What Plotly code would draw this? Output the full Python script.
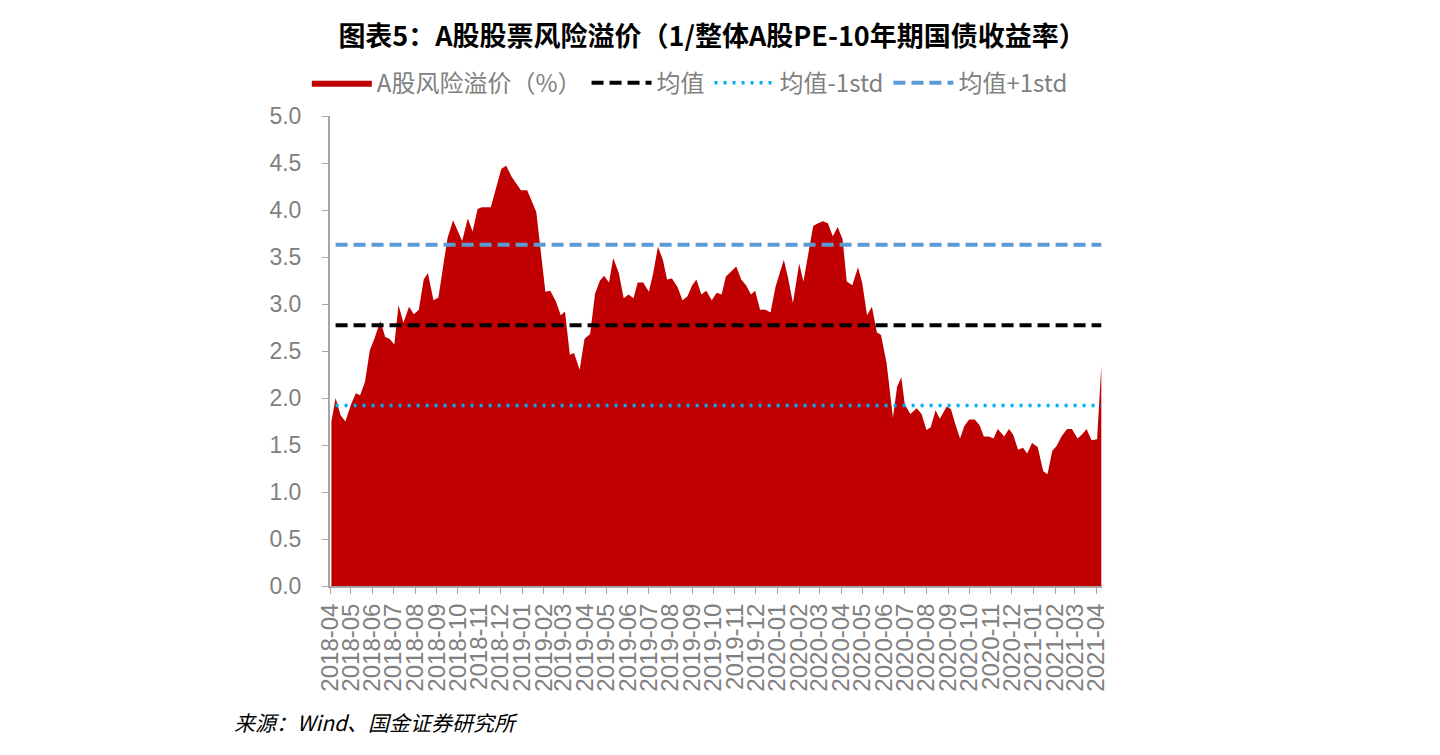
import plotly.graph_objects as go

dates = [
    "2018-04-03", "2018-04-09", "2018-04-16", "2018-04-23", "2018-05-01", "2018-05-08", "2018-05-14",
    "2018-05-21", "2018-05-28", "2018-06-04", "2018-06-12", "2018-06-19", "2018-06-25", "2018-07-02",
    "2018-07-08", "2018-07-15", "2018-07-23", "2018-07-30", "2018-08-06", "2018-08-13", "2018-08-19",
    "2018-08-27", "2018-09-03", "2018-09-16", "2018-09-24", "2018-10-07", "2018-10-15", "2018-10-22",
    "2018-10-29", "2018-11-04", "2018-11-17", "2018-11-25", "2018-12-02", "2018-12-09", "2018-12-17",
    "2018-12-30", "2019-01-08", "2019-01-21", "2019-01-27", "2019-02-03", "2019-02-10", "2019-02-18",
    "2019-02-25", "2019-03-03", "2019-03-10", "2019-03-16", "2019-03-24", "2019-03-31", "2019-04-08",
    "2019-04-15", "2019-04-22", "2019-04-28", "2019-05-05", "2019-05-11", "2019-05-19", "2019-05-26",
    "2019-06-02", "2019-06-09", "2019-06-15", "2019-06-23", "2019-07-01", "2019-07-07", "2019-07-14",
    "2019-07-21", "2019-07-27", "2019-08-03", "2019-08-11", "2019-08-18", "2019-08-25", "2019-09-01",
    "2019-09-07", "2019-09-14", "2019-09-21", "2019-09-29", "2019-10-06", "2019-10-13", "2019-10-19",
    "2019-10-26", "2019-11-03", "2019-11-10", "2019-11-17", "2019-11-24", "2019-11-30", "2019-12-07",
    "2019-12-15", "2019-12-22", "2019-12-29", "2020-01-10", "2020-01-16", "2020-01-23", "2020-02-01",
    "2020-02-07", "2020-02-14", "2020-02-21", "2020-02-28", "2020-03-06", "2020-03-13", "2020-03-20",
    "2020-03-27", "2020-04-03", "2020-04-09", "2020-04-17", "2020-04-25", "2020-05-01", "2020-05-08",
    "2020-05-15", "2020-05-22", "2020-05-28", "2020-06-05", "2020-06-14", "2020-06-20", "2020-06-26",
    "2020-07-01", "2020-07-09", "2020-07-18", "2020-07-25", "2020-08-01", "2020-08-07", "2020-08-14",
    "2020-08-20", "2020-08-30", "2020-09-05", "2020-09-11", "2020-09-18", "2020-09-24", "2020-10-01",
    "2020-10-09", "2020-10-16", "2020-10-22", "2020-10-29", "2020-11-05", "2020-11-11", "2020-11-20",
    "2020-11-27", "2020-12-03", "2020-12-10", "2020-12-17", "2020-12-23", "2020-12-30", "2021-01-07",
    "2021-01-15", "2021-01-21", "2021-01-28", "2021-02-03", "2021-02-10", "2021-02-18", "2021-02-25",
    "2021-03-05", "2021-03-11", "2021-03-18", "2021-03-25", "2021-04-02", "2021-04-08",
]

premium = [
    1.75, 2.00, 1.82, 1.75, 1.93, 2.05, 2.03,
    2.17, 2.51, 2.64, 2.82, 2.65, 2.63, 2.57,
    2.99, 2.80, 2.97, 2.89, 2.94, 3.26, 3.33,
    3.04, 3.07, 3.70, 3.89, 3.67, 3.91, 3.77,
    4.01, 4.03, 4.03, 4.26, 4.44, 4.47, 4.35,
    4.21, 4.21, 3.98, 3.61, 3.13, 3.14, 3.03,
    2.88, 2.92, 2.46, 2.48, 2.30, 2.63, 2.68,
    3.11, 3.25, 3.30, 3.23, 3.49, 3.33, 3.06,
    3.10, 3.06, 3.23, 3.23, 3.13, 3.32, 3.61,
    3.47, 3.26, 3.27, 3.18, 3.04, 3.08, 3.20,
    3.26, 3.10, 3.14, 3.04, 3.12, 3.10, 3.29,
    3.34, 3.40, 3.26, 3.20, 3.10, 3.14, 2.94,
    2.94, 2.91, 3.18, 3.47, 3.28, 3.01, 3.43,
    3.24, 3.54, 3.83, 3.86, 3.88, 3.86, 3.72,
    3.82, 3.69, 3.24, 3.20, 3.39, 3.23, 2.88,
    2.97, 2.70, 2.67, 2.37, 1.79, 2.12, 2.22,
    1.93, 1.83, 1.89, 1.83, 1.66, 1.69, 1.87,
    1.78, 1.91, 1.88, 1.73, 1.57, 1.70, 1.77,
    1.77, 1.71, 1.59, 1.59, 1.57, 1.67, 1.59,
    1.67, 1.61, 1.45, 1.47, 1.41, 1.52, 1.48,
    1.22, 1.19, 1.44, 1.49, 1.59, 1.67, 1.67,
    1.57, 1.61, 1.67, 1.55, 1.56, 2.34,
]

mean_value = 2.775
mean_minus_std = 1.92
mean_plus_std = 3.63

tick_months = [
    "2018-04", "2018-05", "2018-06", "2018-07", "2018-08", "2018-09", "2018-10", "2018-11", "2018-12",
    "2019-01", "2019-02", "2019-03", "2019-04", "2019-05", "2019-06", "2019-07", "2019-08", "2019-09",
    "2019-10", "2019-11", "2019-12", "2020-01", "2020-02", "2020-03", "2020-04", "2020-05", "2020-06",
    "2020-07", "2020-08", "2020-09", "2020-10", "2020-11", "2020-12", "2021-01", "2021-02", "2021-03",
    "2021-04",
]

gray = "#808080"
sans = "Liberation Sans Narrow, Liberation Sans, Arial"

fig = go.Figure()
fig.add_trace(go.Scatter(
    x=dates, y=premium, name="A股风险溢价（%）", mode="lines",
    line=dict(width=0, color="#C00000"), fill="tozeroy", fillcolor="#C00000",
))
line_dates = dates[1:]
fig.add_trace(go.Scatter(
    x=line_dates, y=[mean_value] * len(line_dates), name="均值", mode="lines",
    line=dict(color="black", width=4, dash="12px,6px"),
))
fig.add_trace(go.Scatter(
    x=line_dates, y=[mean_minus_std] * len(line_dates), name="均值-1std", mode="lines",
    line=dict(color="#00B0F0", width=3.5, dash="3px,6px"),
))
fig.add_trace(go.Scatter(
    x=line_dates, y=[mean_plus_std] * len(line_dates), name="均值+1std", mode="lines",
    line=dict(color="#5B9BD5", width=4, dash="12px,6px"),
))

fig.update_layout(
    width=1440, height=755,
    margin=dict(l=330, r=338, t=116, b=169),
    plot_bgcolor="white", paper_bgcolor="white",
    title=dict(
        text="<b>图表5：A股股票风险溢价（1/整体A股PE-10年期国债收益率）</b>",
        x=0.4945, xanchor="center", y=0.951, yanchor="middle",
        font=dict(family="Noto Sans CJK SC", size=27, color="black"),
    ),
    legend=dict(
        orientation="h", x=-0.03, xanchor="left", y=1.07, yanchor="middle",
        font=dict(family="Noto Sans CJK SC, Liberation Sans", size=24, color=gray),
        itemwidth=60, tracegroupgap=0, bgcolor="rgba(0,0,0,0)",
    ),
    showlegend=True,
)

fig.update_xaxes(
    type="date",
    range=["2018-04-01", "2021-04-09"],
    tickvals=[m + "-01" for m in tick_months],
    ticktext=tick_months,
    tickangle=-90,
    tickfont=dict(family=sans, size=24, color=gray),
    showgrid=False, zeroline=False,
    showline=True, linecolor="#A6A6A6", linewidth=2,
    ticks="outside", ticklen=6, tickcolor="#A6A6A6", tickwidth=1,
)
fig.update_yaxes(
    range=[0, 5], dtick=0.5, tick0=0, tickformat=".1f",
    tickfont=dict(family=sans, size=23, color=gray),
    showgrid=False, zeroline=False,
    showline=True, linecolor="#A6A6A6", linewidth=2,
    ticks="outside", ticklen=6, tickcolor="#A6A6A6", tickwidth=1,
    ticklabelstandoff=16,
)

fig.add_annotation(
    text="<i>来源：Wind、国金证券研究所</i>",
    xref="paper", yref="paper", x=-0.127, xanchor="left",
    y=-0.29, yanchor="middle",
    showarrow=False,
    font=dict(family="Noto Sans CJK SC", size=21, color="black"),
)

fig.write_html("out.html")
